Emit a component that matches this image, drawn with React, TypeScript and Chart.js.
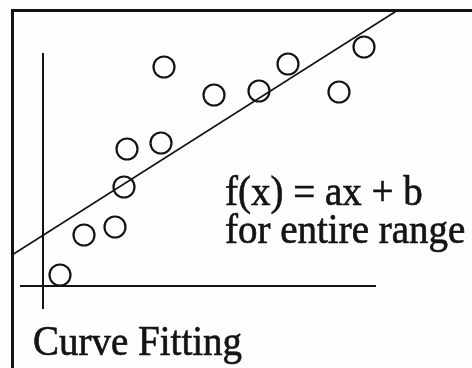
import React, { useEffect, useRef } from "react";
import { Chart, registerables } from "chart.js";

Chart.register(...registerables);

// Sample observations (x, y)
const sampleX = [1.7, 4.1, 7.2, 8.1, 8.4, 11.8, 12.1, 17.1, 21.6, 24.5, 29.6, 32.1];
const sampleY = [1.1, 5.1, 5.9, 9.9, 13.7, 14.3, 21.9, 19.1, 19.5, 22.2, 19.4, 23.9];

// Straight-line fit f(x) = ax + b, drawn between its two end points
const fitX = [-3.1, 35.5];
const fitY = [3.1, 27.6];

// Axis lines
const xAxisX = [-2.3, 33.3];
const xAxisY = [0, 0];
const yAxisX = [0, 0];
const yAxisY = [-2.3, 23.3];

const formulaLines = ["f(x) = ax + b", "for entire range"];
const caption = "Curve Fitting";

const INK = "#141414";
const FONT = "39px 'Liberation Serif', 'Times New Roman', serif";

const zip = (xs: number[], ys: number[]) => xs.map((x, i) => ({ x, y: ys[i] }));

// Draws text slightly stretched vertically and with a thin outline for weight
function heavyText(ctx: CanvasRenderingContext2D, text: string, x: number, baseline: number) {
  ctx.save();
  ctx.translate(x, baseline);
  ctx.scale(1, 1.06);
  ctx.fillText(text, 0, 0);
  ctx.strokeText(text, 0, 0);
  ctx.restore();
}

const decorations = {
  id: "decorations",
  beforeDatasetsDraw(chart: any) {
    const { ctx } = chart;
    ctx.save();
    // frame (left and top edges)
    ctx.strokeStyle = INK;
    ctx.lineWidth = 3;
    ctx.beginPath();
    ctx.moveTo(12.5, 368);
    ctx.lineTo(12.5, 10.5);
    ctx.lineTo(472, 10.5);
    ctx.stroke();
    ctx.restore();
  },
  afterDatasetsDraw(chart: any) {
    const { ctx } = chart;
    ctx.save();
    ctx.fillStyle = INK;
    ctx.strokeStyle = INK;
    ctx.lineWidth = 0.6;
    ctx.font = FONT;
    ctx.textAlign = "left";
    ctx.textBaseline = "alphabetic";
    heavyText(ctx, formulaLines[0], 225, 205);
    heavyText(ctx, formulaLines[1], 225, 243);
    heavyText(ctx, caption, 33, 355);
    ctx.restore();
  },
};

export default function App() {
  const canvasRef = useRef<HTMLCanvasElement | null>(null);

  useEffect(() => {
    const canvas = canvasRef.current;
    if (!canvas) return;
    const chart = new Chart(canvas, {
      type: "scatter",
      data: {
        datasets: [
          {
            label: "x axis",
            type: "line",
            data: zip(xAxisX, xAxisY),
            borderColor: INK,
            borderWidth: 2,
            pointRadius: 0,
            showLine: true,
          },
          {
            label: "y axis",
            type: "line",
            data: zip(yAxisX, yAxisY),
            borderColor: INK,
            borderWidth: 2,
            pointRadius: 0,
            showLine: true,
          },
          {
            label: "fit",
            type: "line",
            data: zip(fitX, fitY),
            borderColor: INK,
            borderWidth: 1.6,
            pointRadius: 0,
            showLine: true,
          },
          {
            label: "samples",
            data: zip(sampleX, sampleY),
            pointStyle: "circle",
            pointRadius: 10.5,
            pointBorderWidth: 2.2,
            pointBorderColor: INK,
            pointBackgroundColor: "rgba(0,0,0,0)",
            showLine: false,
          },
        ],
      },
      options: {
        animation: false,
        responsive: false,
        maintainAspectRatio: false,
        events: [],
        clip: false as any,
        layout: { padding: 0, autoPadding: false },
        plugins: {
          legend: { display: false },
          tooltip: { enabled: false },
          title: { display: false },
        },
        scales: {
          x: { type: "linear", min: -4.3, max: 42.9, display: false },
          y: { type: "linear", min: -8.2, max: 28.6, display: false },
        },
      },
      plugins: [decorations],
    });
    return () => chart.destroy();
  }, []);

  return (
    <div style={{ position: "fixed", left: 0, top: 0, width: 472, height: 368, background: "#fefefe" }}>
      <canvas ref={canvasRef} width={472} height={368} style={{ display: "block", width: 472, height: 368 }} />
    </div>
  );
}
